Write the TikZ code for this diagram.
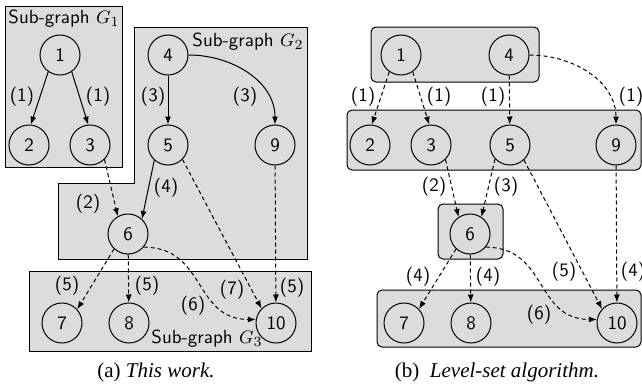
\documentclass[tikz,border=0pt]{standalone}
\usepackage{fontspec}
\usetikzlibrary{arrows.meta,positioning}
\newfontfamily\capfont{Liberation Serif}
\definecolor{grpgray}{HTML}{DCDCDC}
\tikzset{
  vertexnode/.style={
    circle, draw, line width=0.5pt,
    minimum size=20pt, inner sep=0pt,
    font=\fontsize{9.5}{11}\sffamily
  },
  groupbox/.style={
    draw, fill=grpgray, line width=0.5pt
  },
  levelbox/.style={
    groupbox, rounded corners=2.5pt
  },
  edgearrow/.style={
    -{Latex[length=4pt,width=3pt]}, line width=0.5pt
  },
  levelarrow/.style={
    edgearrow, dash pattern=on 2pt off 1.5pt
  },
  labelnode/.style={
    font=\fontsize{9.5}{11}\sffamily, inner sep=0pt
  },
  captionnode/.style={
    font=\fontsize{10.5}{12}\capfont, inner sep=0pt
  },
}

\begin{document}
\begin{tikzpicture}[x=0.5pt, y=-0.5pt]
  \useasboundingbox (0,0) rectangle (642,391);

  % (a) sub-graphs
  \draw[groupbox] (5,6) rectangle (122,167);
  \draw[groupbox] (134,27) -- (307,27) -- (307,259) -- (58,259)
    -- (58,183) -- (134,183) -- cycle;
  \draw[groupbox] (29,271) rectangle (311,351);
  \node[labelnode] (g1) at (64,19) {Sub-graph $G_1$};
  \node[labelnode] (g2) at (248,42) {Sub-graph $G_2$};
  \node[labelnode] (g3) at (207,339) {Sub-graph $G_3$};

  \node[vertexnode] (a1) at (60,55) {1};
  \node[vertexnode] (a2) at (29,145) {2};
  \node[vertexnode] (a3) at (90,145) {3};
  \node[vertexnode] (a4) at (168,55) {4};
  \node[vertexnode] (a5) at (168,145) {5};
  \node[vertexnode] (a9) at (275,145) {9};
  \node[vertexnode] (a6) at (128,234) {6};
  \node[vertexnode] (a7) at (62,323) {7};
  \node[vertexnode] (a8) at (129,323) {8};
  \node[vertexnode] (a10) at (276,323) {10};

  \draw[edgearrow] (a1.235) -- (a2.85);
  \draw[edgearrow] (a1.-55) -- (a3.95);
  \draw[edgearrow] (a4) -- (a5);
  \draw[edgearrow] (a4.east) to[out=0, in=90] (a9.north);
  \draw[edgearrow] (a5.228) -- (a6.47);
  \draw[levelarrow] (a3.-45) -- (a6.120);
  \draw[levelarrow] (a5.-45) -- (a10.135);
  \draw[levelarrow] (a9) -- (a10);
  \draw[levelarrow] (a6.227) -- (a7.42);
  \draw[levelarrow] (a6) -- (a8);
  \draw[levelarrow] (a6.-40) to[out=0, in=180, looseness=1.2] (a10.170);

  \node[labelnode] (la12) at (22,97) {(1)};
  \node[labelnode] (la13) at (98,97) {(1)};
  \node[labelnode] (la45) at (153,97) {(3)};
  \node[labelnode] (la49) at (245,97) {(3)};
  \node[labelnode] (la56) at (166,188) {(4)};
  \node[labelnode] (la36) at (88,204) {(2)};
  \node[labelnode] (la510) at (232,290) {(7)};
  \node[labelnode] (la910) at (292,288) {(5)};
  \node[labelnode] (la67) at (67,286) {(5)};
  \node[labelnode] (la68) at (147,286) {(5)};
  \node[labelnode] (la610) at (193,306) {(6)};

  \node[captionnode] (capa) at (156,372) {(a) \textit{This work.}};

  % (b) level sets
  \draw[levelbox] (371,27) rectangle (539,82);
  \draw[levelbox] (347,110) rectangle (641,170);
  \draw[levelbox] (438,204) rectangle (503,259);
  \draw[levelbox] (377,290) rectangle (641,347);

  \node[vertexnode] (b1) at (401,55) {1};
  \node[vertexnode] (b4) at (509,55) {4};
  \node[vertexnode] (b2) at (370,145) {2};
  \node[vertexnode] (b3) at (431,145) {3};
  \node[vertexnode] (b5) at (510,145) {5};
  \node[vertexnode] (b9) at (616,145) {9};
  \node[vertexnode] (b6) at (470,234) {6};
  \node[vertexnode] (b7) at (404,323) {7};
  \node[vertexnode] (b8) at (471,323) {8};
  \node[vertexnode] (b10) at (617,323) {10};

  \draw[levelarrow] (b1.235) -- (b2.85);
  \draw[levelarrow] (b1.-55) -- (b3.95);
  \draw[levelarrow] (b4) -- (b5);
  \draw[levelarrow] (b4.east) to[out=0, in=90] (b9.north);
  \draw[levelarrow] (b3.-45) -- (b6.124);
  \draw[levelarrow] (b5.223) -- (b6.56);
  \draw[levelarrow] (b5.-47) -- (b10.137);
  \draw[levelarrow] (b9) -- (b10);
  \draw[levelarrow] (b6.227) -- (b7.43);
  \draw[levelarrow] (b6) -- (b8);
  \draw[levelarrow] (b6.-40) to[out=0, in=180, looseness=1.2] (b10.170);

  \node[labelnode] (lb12) at (363,97) {(1)};
  \node[labelnode] (lb13) at (439,97) {(1)};
  \node[labelnode] (lb45) at (493,97) {(1)};
  \node[labelnode] (lb49) at (631,97) {(1)};
  \node[labelnode] (lb36) at (434,187) {(2)};
  \node[labelnode] (lb56) at (506,187) {(3)};
  \node[labelnode] (lb510) at (564,272) {(5)};
  \node[labelnode] (lb910) at (633,272) {(4)};
  \node[labelnode] (lb67) at (418,277) {(4)};
  \node[labelnode] (lb68) at (488,277) {(4)};
  \node[labelnode] (lb610) at (539,315) {(6)};

  \node[captionnode] (capb) at (497,372) {(b)\ \ \textit{Level-set algorithm.}};
\end{tikzpicture}
\end{document}
